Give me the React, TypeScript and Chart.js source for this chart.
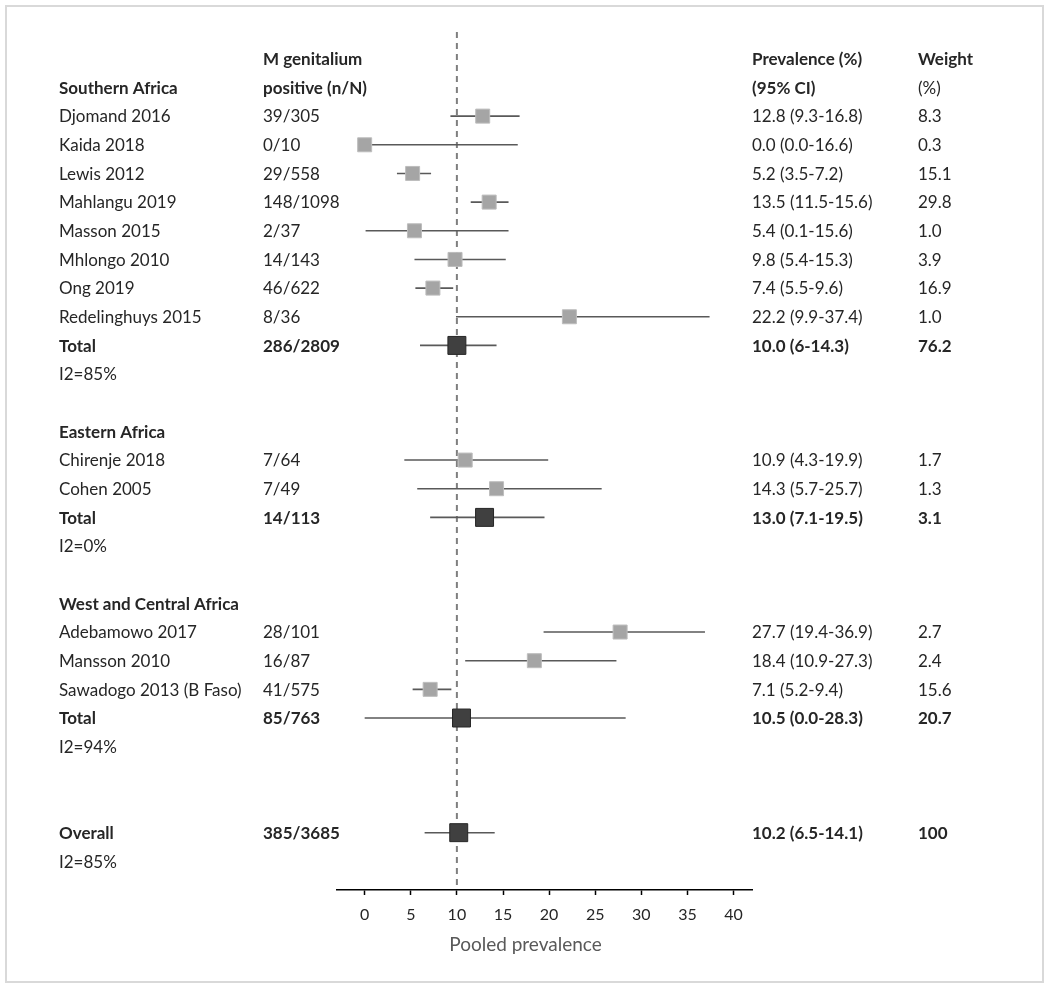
import React, { useEffect, useRef } from "react";
import { Chart, registerables } from "chart.js";

Chart.register(...registerables);

const rowLabels = [
  "", "Southern Africa", "Djomand 2016", "Kaida 2018", "Lewis 2012", "Mahlangu 2019",
  "Masson 2015", "Mhlongo 2010", "Ong 2019", "Redelinghuys 2015", "Total", "I2=85%", "",
  "Eastern Africa", "Chirenje 2018", "Cohen 2005", "Total", "I2=0%", "",
  "West and Central Africa", "Adebamowo 2017", "Mansson 2010", "Sawadogo 2013 (B Faso)",
  "Total", "I2=94%", "", "", "Overall", "I2=85%",
];
const positives = [
  "M genitalium", "positive (n/N)", "39/305", "0/10", "29/558", "148/1098", "2/37", "14/143",
  "46/622", "8/36", "286/2809", "", "", "", "7/64", "7/49", "14/113", "", "", "", "28/101",
  "16/87", "41/575", "85/763", "", "", "", "385/3685", "",
];
const prevalenceText = [
  "Prevalence (%)", "(95% CI)", "12.8 (9.3-16.8)", "0.0 (0.0-16.6)", "5.2 (3.5-7.2)",
  "13.5 (11.5-15.6)", "5.4 (0.1-15.6)", "9.8 (5.4-15.3)", "7.4 (5.5-9.6)", "22.2 (9.9-37.4)",
  "10.0 (6-14.3)", "", "", "", "10.9 (4.3-19.9)", "14.3 (5.7-25.7)", "13.0 (7.1-19.5)", "", "",
  "", "27.7 (19.4-36.9)", "18.4 (10.9-27.3)", "7.1 (5.2-9.4)", "10.5 (0.0-28.3)", "", "", "",
  "10.2 (6.5-14.1)", "",
];
const weightText = [
  "Weight", "(%)", "8.3", "0.3", "15.1", "29.8", "1.0", "3.9", "16.9", "1.0", "76.2", "", "",
  "", "1.7", "1.3", "3.1", "", "", "", "2.7", "2.4", "15.6", "20.7", "", "", "", "100", "",
];
const estimates = [
  null, null, 12.8, 0.0, 5.2, 13.5, 5.4, 9.8, 7.4, 22.2, 10.0, null, null,
  null, 10.9, 14.3, 13.0, null, null,
  null, 27.7, 18.4, 7.1, 10.5, null, null, null, 10.2, null,
];
const lowerCI = [
  null, null, 9.3, 0.0, 3.5, 11.5, 0.1, 5.4, 5.5, 9.9, 6.0, null, null,
  null, 4.3, 5.7, 7.1, null, null,
  null, 19.4, 10.9, 5.2, 0.0, null, null, null, 6.5, null,
];
const upperCI = [
  null, null, 16.8, 16.6, 7.2, 15.6, 15.6, 15.3, 9.6, 37.4, 14.3, null, null,
  null, 19.9, 25.7, 19.5, null, null,
  null, 36.9, 27.3, 9.4, 28.3, null, null, null, 14.1, null,
];
const rowKinds = [
  "head", "head", "study", "study", "study", "study", "study", "study", "study", "study",
  "total", "i2", "blank", "section", "study", "study", "total", "i2", "blank",
  "section", "study", "study", "study", "total", "i2", "blank", "blank", "total", "i2",
];
const plainHeaderCells = ["(%)"];
const xTicks = [0, 5, 10, 15, 20, 25, 30, 35, 40];
const referenceValue = 10;
const axisTitle = "Pooled prevalence";

const FONT = "Lato, 'Open Sans', sans-serif";
const TEXT_COLOR = "#262626";

export default function App() {
  const ref = useRef<HTMLCanvasElement | null>(null);

  useEffect(() => {
    if (!ref.current) return;

    const pointData: { x: number; y: number }[] = [];
    const pointRadius: number[] = [];
    const pointBg: string[] = [];
    const pointBorder: string[] = [];
    const ciSets: any[] = [];
    estimates.forEach((v, i) => {
      if (v === null) return;
      const isTotal = rowKinds[i] === "total";
      pointData.push({ x: v, y: i });
      pointRadius.push(isTotal ? 12.7 : 9.9);
      pointBg.push(isTotal ? "#404040" : "#a5a5a5");
      pointBorder.push(isTotal ? "#262626" : "#bdbdbd");
      ciSets.push({
        type: "line",
        data: [
          { x: lowerCI[i], y: i },
          { x: upperCI[i], y: i },
        ],
        borderColor: "#595959",
        borderWidth: 1.6,
        pointRadius: 0,
        order: 2,
      });
    });

    const frameAndText = {
      id: "frameAndText",
      beforeDraw(chart: any) {
        const ctx = chart.ctx;
        ctx.save();
        ctx.fillStyle = "#ffffff";
        ctx.fillRect(0, 0, chart.width, chart.height);
        ctx.strokeStyle = "#d9d9d9";
        ctx.lineWidth = 2;
        ctx.strokeRect(6, 6, 1037, 976);
        ctx.restore();
      },
      beforeDatasetsDraw(chart: any) {
        const ctx = chart.ctx;
        const xs = chart.scales.x;
        const area = chart.chartArea;
        const px = xs.getPixelForValue(referenceValue);
        ctx.save();
        ctx.strokeStyle = "#7f7f7f";
        ctx.lineWidth = 2;
        ctx.setLineDash([6, 5]);
        ctx.beginPath();
        ctx.moveTo(px, area.top - 1);
        ctx.lineTo(px, area.bottom);
        ctx.stroke();
        ctx.restore();
      },
      afterDraw(chart: any) {
        const ctx = chart.ctx;
        const ys = chart.scales.y;
        ctx.save();
        ctx.fillStyle = TEXT_COLOR;
        ctx.textBaseline = "alphabetic";
        ctx.textAlign = "left";
        const cols: [string[], number][] = [
          [rowLabels, 59],
          [positives, 263],
          [prevalenceText, 752],
          [weightText, 918],
        ];
        rowLabels.forEach((_, i) => {
          const y = ys.getPixelForValue(i) + 6.2;
          const kind = rowKinds[i];
          const boldRow = kind === "head" || kind === "section" || kind === "total";
          cols.forEach(([arr, x]) => {
            const t = arr[i];
            if (!t) return;
            const bold = boldRow && !plainHeaderCells.includes(t);
            ctx.font = `${bold ? "bold " : ""}17px ${FONT}`;
            ctx.fillText(t, x, y);
          });
        });
        ctx.fillStyle = "#595959";
        ctx.font = `19px ${FONT}`;
        ctx.textAlign = "center";
        ctx.fillText(axisTitle, 525.5, 951);
        ctx.restore();
      },
    };

    const chart = new Chart(ref.current, {
      type: "scatter",
      data: {
        datasets: [
          {
            type: "scatter",
            data: pointData,
            pointStyle: "rect",
            pointRadius: pointRadius,
            pointHoverRadius: pointRadius,
            backgroundColor: pointBg,
            borderColor: pointBorder,
            borderWidth: 1,
            order: 0,
          } as any,
          ...ciSets,
        ],
      },
      options: {
        responsive: false,
        animation: false,
        devicePixelRatio: 1,
        events: [],
        layout: { padding: { top: 33, left: 337, right: 298, bottom: 38 } },
        plugins: { legend: { display: false }, tooltip: { enabled: false } },
        scales: {
          x: {
            type: "linear",
            min: -3,
            max: 42,
            afterBuildTicks: (scale: any) => {
              scale.ticks = xTicks.map((v) => ({ value: v }));
            },
            afterFit: (scale: any) => {
              scale.height = 60;
            },
            ticks: {
              stepSize: 5,
              includeBounds: false,
              color: TEXT_COLOR,
              font: { family: FONT, size: 16 },
              padding: 10,
              maxRotation: 0,
            },
            grid: {
              display: true,
              drawOnChartArea: false,
              drawTicks: true,
              tickLength: 5,
              tickColor: "#000000",
              tickWidth: 1.5,
            },
            border: { display: true, color: "#000000", width: 1.5 },
          },
          y: {
            type: "linear",
            reverse: true,
            min: -0.9,
            max: 29,
            display: false,
          },
        },
      },
      plugins: [frameAndText],
    } as any);

    return () => chart.destroy();
  }, []);

  return (
    <canvas
      ref={ref}
      width={1050}
      height={988}
      style={{ position: "fixed", left: 0, top: 0, width: 1050, height: 988 }}
    />
  );
}
